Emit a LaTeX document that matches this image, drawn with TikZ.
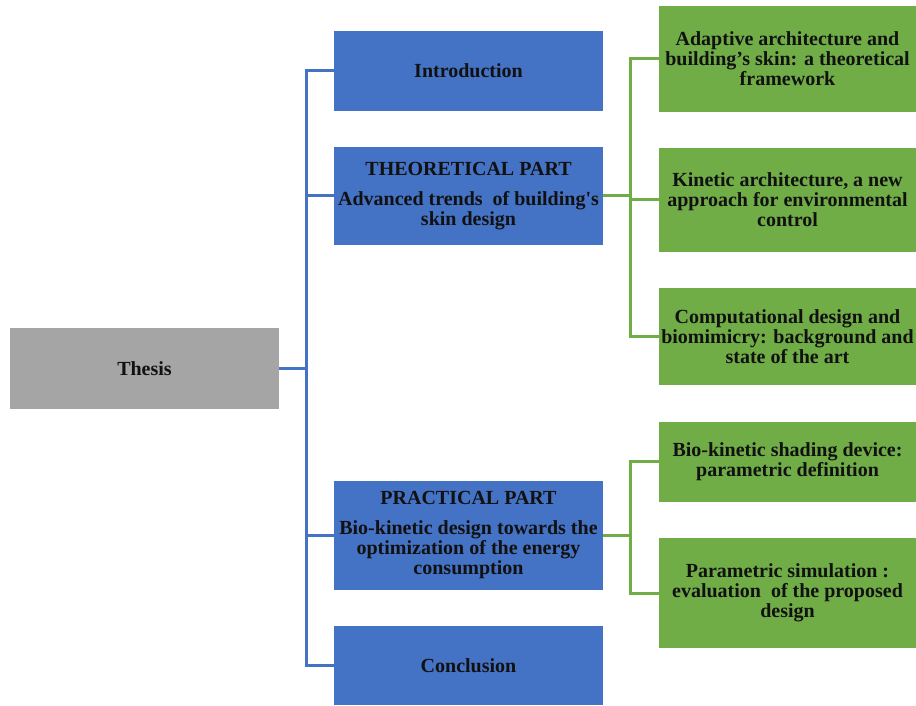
\documentclass[tikz,border=0pt]{standalone}
\usepackage{fontspec}
\setmainfont{Liberation Serif}
\usetikzlibrary{positioning}
\definecolor{partblue}{HTML}{4472C4}
\definecolor{topicgreen}{HTML}{70AD47}
\definecolor{rootgray}{HTML}{A5A5A5}
\definecolor{txtblack}{HTML}{111111}

\begin{document}
\begin{tikzpicture}[
    x=1pt, y=1pt,
    font=\fontsize{20}{20}\selectfont\bfseries,
    text=txtblack,
    rootbox/.style={
        fill=rootgray, minimum width=269pt, minimum height=81pt,
        align=center, inner sep=1pt,
    },
    partbox/.style={
        fill=partblue, minimum width=269pt, align=center, inner sep=1pt,
    },
    topicbox/.style={
        fill=topicgreen, minimum width=257pt, align=center, inner sep=1pt,
    },
    bluelink/.style={draw=partblue, line width=3pt},
    greenlink/.style={draw=topicgreen, line width=3pt},
]
\useasboundingbox (0,0) rectangle (916,705);

% Nodes
\node[rootbox] (thesis) at (144.5,336.5) {Thesis};

\node[partbox, minimum height=80pt] (intro) at (468.5,634) {Introduction};
\node[partbox, minimum height=98pt] (theory) at (468.5,509)
    {THEORETICAL PART\\[10pt]Advanced trends\ \ of building\textquotesingle s\\skin design};
\node[partbox, minimum height=109pt] (practice) at (468.5,169.5)
    {PRACTICAL PART\\[10pt]Bio-kinetic design towards the\\optimization of the energy\\consumption};
\node[partbox, minimum height=79pt] (concl) at (468.5,39.5) {Conclusion};

\node[topicbox, minimum height=106pt] (adaptive) at (787.5,646)
    {Adaptive architecture and\\building’s skin: a theoretical\\framework};
\node[topicbox, minimum height=104pt] (kinetic) at (787.5,505)
    {Kinetic architecture, a new\\approach for environmental\\control};
\node[topicbox, minimum height=97pt] (computational) at (787.5,368.5)
    {Computational\ design and\\biomimicry: background and\\state of the art};
\node[topicbox, minimum height=80pt] (shading) at (787.5,243)
    {Bio-kinetic shading device:\\parametric\ definition};
\node[topicbox, minimum height=110pt] (simulation) at (787.5,112)
    {Parametric simulation :\\evaluation\ \ of the proposed\\design};

% Buses
\coordinate (bluebus) at (306,0);
\coordinate (greenbus) at (630,0);

% Thesis to parts
\draw[bluelink] (thesis.east) -- (thesis.east -| bluebus);
\draw[bluelink] (intro.west) -- (intro.west -| bluebus) -- (concl.west -| bluebus) -- (concl.west);
\draw[bluelink] (theory.west) -- (theory.west -| bluebus);
\draw[bluelink] (practice.west) -- (practice.west -| bluebus);

% Theoretical part to chapters
\draw[greenlink] (theory.east) -- (theory.east -| greenbus);
\draw[greenlink] (adaptive.west) -- (adaptive.west -| greenbus) -- (computational.west -| greenbus) -- (computational.west);
\draw[greenlink] (kinetic.west) -- (kinetic.west -| greenbus);

% Practical part to chapters
\draw[greenlink] (practice.east) -- (practice.east -| greenbus);
\draw[greenlink] (shading.west) -- (shading.west -| greenbus) -- (simulation.west -| greenbus) -- (simulation.west);

\end{tikzpicture}
\end{document}
